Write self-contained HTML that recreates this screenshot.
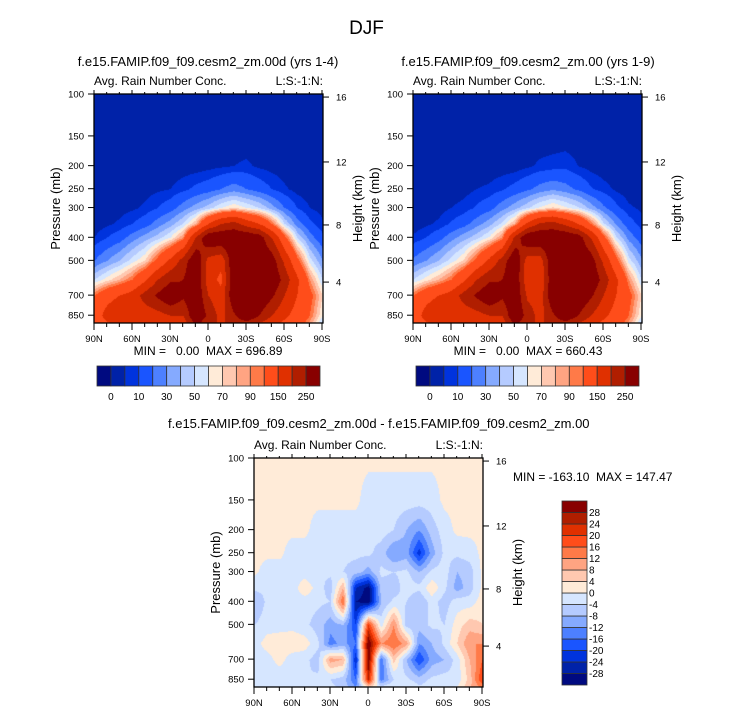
<!DOCTYPE html>
<html><head><meta charset="utf-8">
<style>
body{margin:0;background:#fff;width:733px;height:712px;overflow:hidden;font-family:"Liberation Sans",sans-serif;}
#root{position:relative;width:733px;height:712px;}
.t{position:absolute;white-space:nowrap;color:#000;}
canvas{position:absolute;}
svg{position:absolute;left:0;top:0;}
</style></head><body>
<div id="root">
<div class="t" style="left:0;width:733px;text-align:center;top:18px;font-size:19px;">DJF</div>
<div class="t" style="left:58px;width:300px;text-align:center;top:54px;font-size:13px;">f.e15.FAMIP.f09_f09.cesm2_zm.00d (yrs 1-4)</div>
<div class="t" style="left:378px;width:300px;text-align:center;top:54px;font-size:13px;">f.e15.FAMIP.f09_f09.cesm2_zm.00 (yrs 1-9)</div>
<div class="t" style="left:168px;width:400px;text-align:center;top:416px;font-size:13px;">f.e15.FAMIP.f09_f09.cesm2_zm.00d - f.e15.FAMIP.f09_f09.cesm2_zm.00</div>
<canvas id="c1" width="229" height="229" style="left:94px;top:94px"></canvas>
<canvas id="c2" width="229" height="229" style="left:413px;top:94px"></canvas>
<canvas id="c3" width="229" height="229" style="left:254px;top:458px"></canvas>
<svg id="ov" width="733" height="712"></svg>
</div>
<script>
const lats=['90N','80N','70N','60N','50N','40N','30N','20N','10N','0','10S','20S','30S','40S','50S','60S','70S','80S','90S'];
const levels=[100,150,200,250,300,350,400,500,600,700,850,950];
const fieldA=[
[2,2,2,2,2,2,5,20,50,100,120,110],
[2,2,2,2,2,4,10,30,65,130,170,130],
[2,2,2,2,3,6,15,40,80,150,200,150],
[2,2,2,2,4,10,25,55,100,170,180,140],
[2,2,2,3,6,15,35,70,140,220,170,150],
[2,2,2,4,10,25,45,110,200,260,180,160],
[2,2,2,5,15,35,60,160,240,300,200,170],
[2,2,2,8,25,50,90,220,250,260,200,150],
[2,2,2,12,35,80,200,300,300,300,300,250],
[2,2,3,15,45,150,300,180,170,200,240,200],
[2,2,4,20,60,200,300,160,140,160,180,200],
[2,2,5,25,70,220,300,300,300,300,240,200],
[2,2,6,20,60,180,300,300,300,300,300,200],
[2,2,4,15,50,150,280,300,300,300,250,170],
[2,2,3,10,35,100,200,280,300,260,200,150],
[2,2,2,6,20,50,110,190,230,200,160,130],
[2,2,2,3,10,25,50,110,160,150,130,110],
[2,2,2,2,5,12,25,55,90,110,100,80],
[2,2,2,2,3,6,12,30,50,70,60,40]];
const fieldB=[
[2,2,2,2,2,2,6,22,50,100,120,110],
[2,2,2,2,2,4,10,30,65,130,170,130],
[2,2,2,2,3,6,16,40,80,150,200,150],
[2,2,2,2,5,11,26,55,100,170,180,140],
[2,2,2,3,7,16,36,72,140,220,170,150],
[2,2,2,5,11,26,46,110,200,260,180,160],
[2,2,2,6,16,36,62,160,240,300,200,170],
[2,2,2,9,26,52,92,220,250,260,200,150],
[2,2,2,13,36,82,210,300,300,300,300,250],
[2,2,4,18,48,160,300,170,160,190,230,200],
[2,2,6,24,62,210,300,170,150,170,180,200],
[2,2,7,28,72,220,300,300,300,300,240,200],
[2,2,8,24,62,190,300,300,300,300,300,200],
[2,2,5,18,52,150,280,300,300,300,250,170],
[2,2,3,11,36,100,200,280,300,260,200,150],
[2,2,2,7,22,52,110,190,230,200,160,130],
[2,2,2,4,12,28,52,110,160,150,130,110],
[2,2,2,2,6,14,26,55,90,110,100,80],
[2,2,2,2,4,7,14,32,50,70,60,40]];
const fieldD=[
[1,1,1,1,1,-3,-8,-4,-2,-2,-3,-2],
[1,1,1,1,-2,-3,-3,-2,2,-2,-2,-3],
[1,1,1,1,-2,-2,-2,-2,3,2,-4,-2],
[1,1,1,-2,-2,-2,-2,-2,4,-3,-2,1],
[1,1,1,-2,-2,3,-2,-3,2,-3,-4,-2],
[1,1,-2,-2,-4,-2,-3,-6,-3,-6,-3,-2],
[1,1,-2,-2,-3,-6,-4,-10,-14,10,-4,-3],
[1,1,-2,-3,-4,8,16,-8,-10,8,-6,-4],
[1,1,-2,-3,-6,-24,-28,-20,-16,-24,-16,-10],
[1,-2,-3,-3,-10,-30,-30,20,32,32,24,-6],
[1,-2,-2,-6,-3,-6,-8,-2,12,-16,-14,4],
[1,-2,-4,-12,-4,-6,-3,12,16,6,-4,2],
[1,-2,-8,-10,-3,-2,-4,-6,10,-8,-3,2],
[1,-2,-12,-22,-8,-3,-8,-6,-12,-20,-6,-2],
[1,-2,-6,-10,-3,3,-2,-3,-8,-10,-3,-2],
[1,1,-2,-3,-2,-3,-6,-4,-3,-8,-2,1],
[1,1,1,-3,-8,-10,-2,2,4,-2,-3,2],
[1,1,1,-2,-6,-6,-2,6,12,8,6,8],
[1,1,1,1,1,1,2,4,12,16,20,10]];
const boundsAbs=[0,5,10,20,30,40,50,60,70,80,90,100,150,200,250];
const labelsAbs=['0','10','30','50','70','90','150','250'];
const boundsDiff=[-28,-24,-20,-16,-12,-8,-4,0,4,8,12,16,20,24,28];
const labelsDiff=['-28','-24','-20','-16','-12','-8','-4','0','4','8','12','16','20','24','28'];
const minmaxA='MIN =   0.00  MAX = 696.89';
const minmaxB='MIN =   0.00  MAX = 660.43';
const minmaxD='MIN = -163.10  MAX = 147.47';
const pTicks=[100,150,200,250,300,400,500,700,850];
const hTicks=[[16,103],[12,193],[8,355],[4,617]];
const xTicks=['90N','60N','30N','0','30S','60S','90S'];
const colors=['#000a80','#0022a8','#0033dd','#1a55ff','#4d80ff','#85aaff','#b5cbff','#d6e6ff','#ffebd8','#ffc8b0','#ffa482','#ff7a48','#ff4d1a','#e03000','#b01e00','#880000'];
const rgb=colors.map(c=>[parseInt(c.substr(1,2),16),parseInt(c.substr(3,2),16),parseInt(c.substr(5,2),16)]);
const PW=229,PH=229,DEC=238;
function yOfP(p){return Math.log10(p/100)*DEC;}
function xOfLat(i){return i/18*(PW-1);}
function drawField(id,field,bounds){
  const cv=document.getElementById(id),ctx=cv.getContext('2d');
  const img=ctx.createImageData(PW,PH);
  const ly=levels.map(p=>Math.log10(p));
  for(let py=0;py<PH;py++){
    const lp=2+py/DEC;
    let k=0;while(k<ly.length-2&&lp>ly[k+1])k++;
    let fy=(lp-ly[k])/(ly[k+1]-ly[k]);fy=Math.max(0,Math.min(1,fy));
    for(let px=0;px<PW;px++){
      const fx=px/(PW-1)*18;let i=Math.min(17,Math.floor(fx));const tx=fx-i;
      const v=(field[i][k]*(1-tx)+field[i+1][k]*tx)*(1-fy)+(field[i][k+1]*(1-tx)+field[i+1][k+1]*tx)*fy;
      let c=0;for(const b of bounds)if(v>=b)c++;
      const o=(py*PW+px)*4,col=rgb[c];
      img.data[o]=col[0];img.data[o+1]=col[1];img.data[o+2]=col[2];img.data[o+3]=255;
    }
  }
  ctx.putImageData(img,0,0);
}
drawField('c1',fieldA,boundsAbs);
drawField('c2',fieldB,boundsAbs);
drawField('c3',fieldD,boundsDiff);
const svg=document.getElementById('ov');const NS='http://www.w3.org/2000/svg';
function el(tag,attrs,parent){const e=document.createElementNS(NS,tag);for(const k in attrs)e.setAttribute(k,attrs[k]);(parent||svg).appendChild(e);return e;}
function txt(x,y,s,size,anchor,name,rot){
  const t=el('text',{x:x,y:y,'font-size':size,'text-anchor':anchor||'start','font-family':'Liberation Sans, sans-serif',fill:'#000'});
  t.style.whiteSpace='pre';
  if(rot)t.setAttribute('transform','rotate(-90 '+x+' '+y+')');
  t.textContent=s;
  
  
  return t;
}
function axes(L,T,pfx,minmax,mmCenter){
  const g=el('g',{});
  
  
  el('rect',{x:L,y:T,width:PW,height:PH,fill:'none',stroke:'#000','stroke-width':1.3},g);
  pTicks.forEach(p=>{const y=T+yOfP(p);el('line',{x1:L-6,x2:L,y1:y,y2:y,stroke:'#000'},g);txt(L-10,y+3.5,String(p),9.5,'end',pfx+'-pressure-tick-'+p);});
  hTicks.forEach(h=>{const y=T+yOfP(h[1]);el('line',{x1:L+PW,x2:L+PW+6,y1:y,y2:y,stroke:'#000'},g);txt(L+PW+13,y+3.5,String(h[0]),9.5,'start',pfx+'-height-tick-'+h[0]);});
  for(let i=0;i<=18;i++){const x=L+xOfLat(i);const major=i%3==0;
    el('line',{x1:x,x2:x,y1:T+PH,y2:T+PH+(major?7:4),stroke:'#000'},g);
    el('line',{x1:x,x2:x,y1:T,y2:T-(major?4:2),stroke:'#000'},g);}
  xTicks.forEach((s,j)=>txt(L+xOfLat(j*3),T+PH+19,s,9.5,'middle',pfx+'-lat-tick-'+s));
  txt(L-34,T+PH/2,'Pressure (mb)',13,'middle',pfx+'-y-axis-title',true);
  txt(L+PW+39,T+PH/2,'Height (km)',13,'middle',pfx+'-right-axis-title',true);
  txt(L,T-9,'Avg. Rain Number Conc.',12,'start',pfx+'-variable-label');
  txt(L+PW,T-9,'L:S:-1:N:',12,'end',pfx+'-level-label');
  if(mmCenter)txt(mmCenter[0],mmCenter[1],minmax,12,'middle',pfx+'-min-max');
}
axes(94,94,'left',minmaxA,[208,355]);
axes(413,94,'right',minmaxB,[528,355]);
axes(254,458,'diff',minmaxD,null);
txt(513,481,minmaxD,12,'start','diff-min-max');
function hbar(L,T,W,H,pfx){
  const g=el('g',{});
  
  
  const bw=W/16;
  colors.forEach((c,i)=>el('rect',{x:L+i*bw,y:T,width:bw,height:H,fill:c,stroke:'#333','stroke-width':0.8},g));
  labelsAbs.forEach((s,j)=>txt(L+bw*(1+2*j),T+H+14,s,10,'middle',pfx+'-colorbar-label-'+s));
}
hbar(97,366,223,20,'left');
hbar(416,366,223,20,'right');
(function(){
  const L=562,T=501,W=25,H=184,bh=H/16;
  const g=el('g',{});
  
  
  colors.forEach((c,i)=>el('rect',{x:L,y:T+H-(i+1)*bh,width:W,height:bh,fill:c,stroke:'#333','stroke-width':0.8},g));
  labelsDiff.forEach((s,j)=>txt(L+W+2,T+H-(j+1)*bh+3.5,s,10,'start','diff-colorbar-label-'+s));
})();
</script>
</body></html>
